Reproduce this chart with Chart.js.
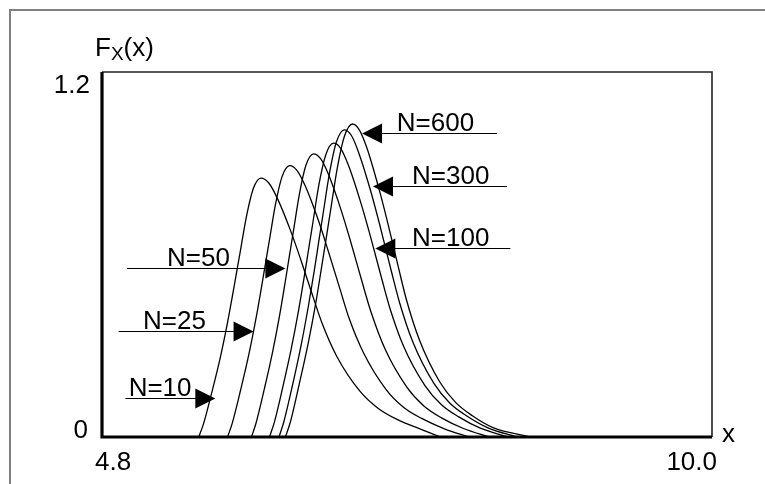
<!DOCTYPE html>
<html>
<head>
<meta charset="utf-8">
<script src="https://cdn.jsdelivr.net/npm/chart.js@4/dist/chart.umd.min.js"></script>
<style>
  html, body { margin: 0; padding: 0; background: #fff; }
  canvas { display: block; }
</style>
</head>
<body>
<canvas id="myChart" width="765" height="484"></canvas>
<script>
// values
const curveLabels = ['N=10', 'N=25', 'N=50', 'N=100', 'N=300', 'N=600']

const n10X = [5.625, 5.665, 5.735, 5.805, 5.865, 5.91, 5.945, 5.98, 6.035, 6.09, 6.155, 6.22, 6.292, 6.405, 6.491, 6.604, 6.676, 6.803, 7.002, 7.155, 7.315, 7.515, 7.685]
const n10Y = [0, 0.043, 0.145, 0.255, 0.366, 0.460, 0.536, 0.613, 0.732, 0.817, 0.851, 0.836, 0.787, 0.681, 0.587, 0.455, 0.374, 0.264, 0.149, 0.094, 0.058, 0.026, 0]

const n25X = [5.87, 5.91, 5.98, 6.05, 6.11, 6.155, 6.19, 6.225, 6.28, 6.335, 6.40, 6.463, 6.533, 6.643, 6.726, 6.836, 6.905, 7.029, 7.222, 7.37, 7.525, 7.719, 7.93]
const n25Y = [0, 0.045, 0.152, 0.268, 0.384, 0.482, 0.562, 0.642, 0.767, 0.856, 0.892, 0.876, 0.825, 0.714, 0.615, 0.477, 0.392, 0.277, 0.156, 0.098, 0.061, 0.027, 0]

const n50X = [6.074, 6.114, 6.184, 6.254, 6.314, 6.359, 6.394, 6.429, 6.484, 6.539, 6.604, 6.665, 6.733, 6.839, 6.92, 7.026, 7.094, 7.213, 7.40, 7.544, 7.694, 7.882, 8.104]
const n50Y = [0, 0.047, 0.158, 0.279, 0.400, 0.503, 0.587, 0.670, 0.801, 0.894, 0.931, 0.914, 0.861, 0.745, 0.642, 0.498, 0.410, 0.289, 0.163, 0.102, 0.063, 0.028, 0]

const n100X = [6.228, 6.269, 6.341, 6.413, 6.475, 6.522, 6.558, 6.594, 6.650, 6.707, 6.774, 6.834, 6.90, 7.004, 7.083, 7.187, 7.253, 7.37, 7.553, 7.694, 7.841, 8.025, 8.264]
const n100Y = [0, 0.048, 0.164, 0.290, 0.415, 0.522, 0.609, 0.696, 0.831, 0.927, 0.966, 0.949, 0.894, 0.773, 0.667, 0.517, 0.425, 0.299, 0.169, 0.106, 0.066, 0.029, 0]

const n300X = [6.309, 6.351, 6.425, 6.498, 6.561, 6.609, 6.645, 6.682, 6.740, 6.798, 6.866, 6.925, 6.989, 7.091, 7.168, 7.27, 7.335, 7.449, 7.628, 7.766, 7.91, 8.09, 8.336]
const n300Y = [0, 0.051, 0.172, 0.303, 0.434, 0.545, 0.636, 0.727, 0.869, 0.970, 1.010, 0.992, 0.934, 0.808, 0.697, 0.540, 0.444, 0.313, 0.177, 0.111, 0.069, 0.030, 0]

const n600X = [6.364, 6.407, 6.482, 6.558, 6.623, 6.671, 6.709, 6.747, 6.806, 6.866, 6.936, 6.993, 7.057, 7.156, 7.232, 7.331, 7.394, 7.506, 7.681, 7.816, 7.957, 8.133, 8.456]
const n600Y = [0, 0.051, 0.175, 0.309, 0.442, 0.556, 0.648, 0.741, 0.885, 0.988, 1.029, 1.010, 0.952, 0.823, 0.710, 0.551, 0.453, 0.319, 0.180, 0.113, 0.070, 0.031, 0]

const xTicks = [4.8, 10.0]
const xTickLabels = ['4.8', '10.0']
const yTicks = [0, 1.2]
const yTickLabels = ['0', '1.2']

// arrows: tip point, other end of the line, where the text starts (all in data units)
const arrowTipX = [5.766, 6.092, 6.363, 7.130, 7.110, 7.017]
const arrowTipY = [0.129, 0.350, 0.554, 0.621, 0.826, 0.998]
const arrowEndX = [4.999, 4.942, 5.013, 8.281, 8.253, 8.167]
const arrowTextX = [5.027, 5.150, 5.354, 7.443, 7.443, 7.313]

const xs = [n10X, n25X, n50X, n100X, n300X, n600X]
const ys = [n10Y, n25Y, n50Y, n100Y, n300Y, n600Y]

const FONT = '"Liberation Sans", Arial, sans-serif'

let datasets = []
curveLabels.map((l, i) => {
	datasets.push({
		label: l,
		data: xs[i].map((x, j) => ({ x: x, y: ys[i][j] })),
		borderColor: '#000',
		borderWidth: 1.3,
		pointRadius: 0,
		fill: false,
		cubicInterpolationMode: 'monotone'
	})
})

const decor = {
	id: 'decor',
	beforeDraw(chart) {
		const c = chart.ctx
		c.save()
		c.fillStyle = '#fff'
		c.fillRect(0, 0, chart.width, chart.height)
		// outer frame
		c.strokeStyle = '#808080'
		c.lineWidth = 2
		c.beginPath()
		c.moveTo(10, chart.height)
		c.lineTo(10, 10)
		c.lineTo(chart.width, 10)
		c.stroke()
		c.restore()
	},
	afterDraw(chart) {
		const c = chart.ctx
		const a = chart.chartArea
		const sx = chart.scales.x
		const sy = chart.scales.y
		c.save()

		// plot box
		c.strokeStyle = '#222'
		c.lineWidth = 1.6
		c.beginPath()
		c.moveTo(a.left, a.top)
		c.lineTo(a.right, a.top)
		c.lineTo(a.right, a.bottom)
		c.stroke()
		c.strokeStyle = '#000'
		c.lineWidth = 3.2
		c.beginPath()
		c.moveTo(a.left, a.top)
		c.lineTo(a.left, a.bottom)
		c.lineTo(a.right, a.bottom)
		c.stroke()

		c.fillStyle = '#000'
		c.font = '26px ' + FONT
		c.textBaseline = 'alphabetic'

		// tick labels
		c.textAlign = 'right'
		c.fillText(yTickLabels[0], a.left - 14, sy.getPixelForValue(yTicks[0]) + 1)
		c.fillText(yTickLabels[1], a.left - 12, sy.getPixelForValue(yTicks[1]) + 21)
		c.textAlign = 'left'
		c.fillText(xTickLabels[0], sx.getPixelForValue(xTicks[0]) - 7, a.bottom + 33)
		c.textAlign = 'right'
		c.fillText(xTickLabels[1], sx.getPixelForValue(xTicks[1]) + 5, a.bottom + 33)

		// axis titles
		c.textAlign = 'left'
		c.fillText('x', a.right + 10, a.bottom + 5)
		c.fillText('F', 95, 56)
		let w = c.measureText('F').width
		c.font = '19px ' + FONT
		c.fillText('X', 95 + w, 60)
		let w2 = c.measureText('X').width
		c.font = '26px ' + FONT
		c.fillText('(x)', 95 + w + w2, 56)

		// arrows with labels
		curveLabels.map((l, i) => {
			const tx = sx.getPixelForValue(arrowTipX[i])
			const ty = Math.round(sy.getPixelForValue(arrowTipY[i])) + 0.5
			const ex = sx.getPixelForValue(arrowEndX[i])
			const dir = ex > tx ? 1 : -1
			c.strokeStyle = '#000'
			c.lineWidth = 1
			c.beginPath()
			c.moveTo(tx + dir * 10, ty)
			c.lineTo(ex, ty)
			c.stroke()
			c.beginPath()
			c.moveTo(tx, ty)
			c.lineTo(tx + dir * 20, ty - 10)
			c.lineTo(tx + dir * 20, ty + 10)
			c.closePath()
			c.fill()
			c.textAlign = 'left'
			c.fillText(l, sx.getPixelForValue(arrowTextX[i]), ty - 2.5)
		})
		c.restore()
	}
}

let myChart1 = document.getElementById('myChart').getContext('2d')

let chart1 = new Chart(myChart1, {
	type: 'line',
	data: { datasets: datasets },
	options: {
		responsive: false,
		animation: false,
		devicePixelRatio: 1,
		layout: { padding: { left: 102, top: 72, right: 53, bottom: 47 } },
		scales: {
			x: {
				type: 'linear',
				min: 4.8,
				max: 10.0,
				display: false
			},
			y: {
				min: 0,
				max: 1.2,
				display: false
			}
		},
		plugins: {
			legend: { display: false },
			tooltip: { enabled: false }
		}
	},
	plugins: [decor]
})
</script>
</body>
</html>
